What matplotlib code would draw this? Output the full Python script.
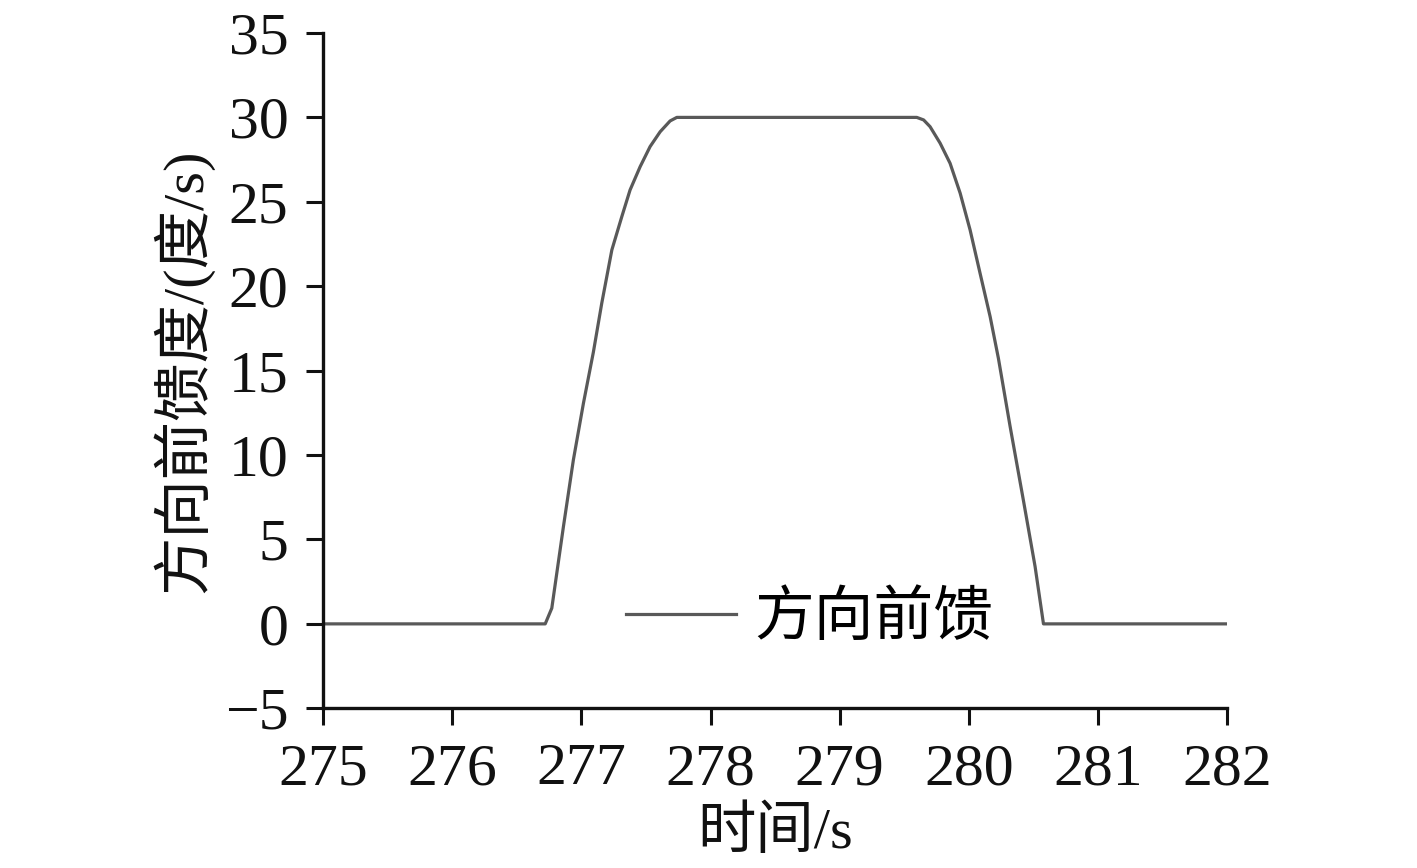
import matplotlib
matplotlib.use("Agg")
import matplotlib.pyplot as plt

plt.rcParams['font.family'] = ['Liberation Serif', 'Noto Sans CJK SC']
plt.rcParams['axes.unicode_minus'] = True

# data
time_s = [275.0, 276.72, 276.771, 276.861, 276.938, 277.016, 277.093, 277.158, 277.236,
          277.313, 277.377, 277.455, 277.532, 277.610, 277.687, 277.739,
          279.597, 279.650, 279.700, 279.778, 279.855, 279.933, 280.010, 280.087,
          280.165, 280.229, 280.320, 280.423, 280.513, 280.578, 282.0]
feedforward = [0, 0, 0.93, 5.76, 9.71, 13.07, 16.1, 19.0, 22.15,
               24.12, 25.70, 27.08, 28.27, 29.15, 29.79, 30,
               30, 29.85, 29.45, 28.47, 27.28, 25.51, 23.33, 20.77,
               18.20, 15.73, 11.68, 7.3, 3.4, 0, 0]
x_ticks = [275, 276, 277, 278, 279, 280, 281, 282]
y_ticks = [-5, 0, 5, 10, 15, 20, 25, 30, 35]
series_label = "方向前馈"
x_label = "时间/s"
y_label = "方向前馈度/(度/s)"

fig = plt.figure(figsize=(14.17, 8.68), dpi=100)
ax = fig.add_axes([0.228, 0.184, 0.638, 0.778])
ax.plot(time_s, feedforward, color='#595959', lw=2.3, label=series_label,
        solid_joinstyle='round')
ax.set_xlim(275, 282)
ax.set_ylim(-5, 35)
ax.set_xticks(x_ticks)
ax.set_yticks(y_ticks)
ax.set_xticklabels([str(t) for t in x_ticks])
ax.set_yticklabels([str(t).replace('-', '\u2212') for t in y_ticks])
for s in ['top', 'right']:
    ax.spines[s].set_visible(False)
for s in ['left', 'bottom']:
    ax.spines[s].set_linewidth(2.4)
    ax.spines[s].set_color('#111111')
ax.tick_params(direction='out', length=12, width=2.2, labelsize=43, color='#111111',
               labelcolor='#111111', pad=13)
ax.set_xlabel(x_label, fontsize=42, labelpad=7, color='#111111')
ax.set_ylabel(y_label, fontsize=42, labelpad=8, color='#111111')
leg = ax.legend(loc='center', bbox_to_anchor=(0.538, 0.130), frameon=False,
                fontsize=43, handlelength=1.85, handletextpad=0.3, borderaxespad=0)
fig.savefig("out.png", dpi=100)
